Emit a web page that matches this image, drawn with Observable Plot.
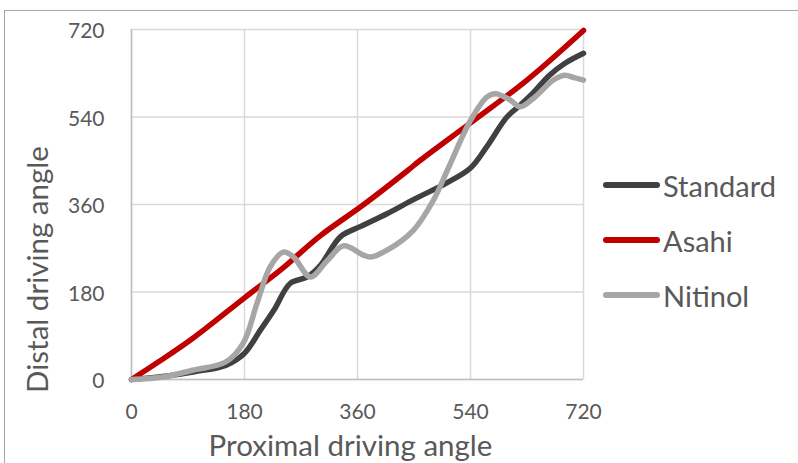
<!DOCTYPE html>
<html>
<head>
<meta charset="utf-8">
<script src="https://cdn.jsdelivr.net/npm/d3@7"></script>
<script src="https://cdn.jsdelivr.net/npm/@observablehq/plot@0.6"></script>
<style>
  html, body { margin: 0; padding: 0; background: #fff; }
  #wrap { position: relative; width: 798px; height: 463px; overflow: hidden; font-family: Lato, "Open Sans", sans-serif; }
  #border { position: absolute; left: 4px; top: 10px; width: 800px; height: 470px; border-left: 1.5px solid #a6a6a6; border-top: 1.5px solid #a6a6a6; box-sizing: border-box; pointer-events: none; }
  #legend { position: absolute; left: 603px; top: 0; }
  .item { position: absolute; left: 0; display: flex; align-items: center; white-space: nowrap; font-size: 29px; color: #595959; }
  .sw { width: 57px; height: 6px; border-radius: 3px; margin-right: 3px; }
</style>
</head>
<body>
<div id="wrap"><div id="border"></div><div id="legend"></div></div>
<script>
const seriesNames = ["Standard", "Asahi", "Nitinol"];
const seriesColors = ["#404040", "#c00000", "#a6a6a6"];
const ticks = [0, 180, 360, 540, 720];

const standardX = [0, 60, 100, 150, 180, 205, 227, 253, 280, 301, 333, 365, 407, 449, 503, 540, 566, 598, 619, 640, 665, 690, 720];
const standardY = [0, 8, 16, 29, 54, 101, 143, 198, 211, 235, 294, 315, 341, 370, 405, 435, 479, 540, 564, 590, 625, 650, 671];

const asahiX = [0, 45, 100, 180, 240, 300, 370, 440, 460, 540, 630, 720];
const asahiY = [0, 38, 87, 168, 228, 295, 360, 430, 451, 528, 616, 718];

const nitinolX = [0, 50, 97, 150, 178, 200, 221, 242, 258, 285, 312, 338, 369, 381, 407, 449, 481, 503, 540, 566, 580, 603, 619, 640, 672, 690, 705, 720];
const nitinolY = [0, 5, 19, 36, 75, 157, 232, 262, 252, 211, 245, 275, 256, 252, 266, 307, 369, 430, 533, 581, 588, 575, 561, 578, 616, 626, 621, 616];

const rows = [];
[[standardX, standardY], [asahiX, asahiY], [nitinolX, nitinolY]].forEach(([xs, ys], i) => {
  xs.forEach((x, j) => rows.push({series: seriesNames[i], x, y: ys[j]}));
});

const txt = "#595959";
const chart = Plot.plot({
  width: 798,
  height: 463,
  marginLeft: 131,
  marginRight: 215,
  marginTop: 29,
  marginBottom: 84,
  style: {fontFamily: "Lato, 'Open Sans', sans-serif", fontSize: "21px", color: txt, background: "transparent", overflow: "visible"},
  x: {domain: [0, 720], ticks: ticks},
  y: {domain: [0, 720], ticks: ticks},
  color: {domain: seriesNames, range: seriesColors},
  marks: [
    Plot.gridX(ticks, {stroke: "#d9d9d9", strokeOpacity: 1, strokeWidth: 1.5}),
    Plot.gridY(ticks, {stroke: "#d9d9d9", strokeOpacity: 1, strokeWidth: 1.5}),
    Plot.ruleX([0], {stroke: "#bfbfbf", strokeWidth: 1.5}),
    Plot.ruleY([0], {stroke: "#bfbfbf", strokeWidth: 1.5}),
    Plot.axisX(ticks, {tickSize: 0, tickPadding: 25, fill: txt, fontSize: 21, label: null}),
    Plot.axisY(ticks, {tickSize: 0, tickPadding: 27, dy: 2, fill: txt, fontSize: 21, label: null}),
    Plot.line(rows, {x: "x", y: "y", z: "series", stroke: "series", strokeWidth: 5.5, curve: "catmull-rom", strokeLinecap: "round", strokeLinejoin: "round"}),
    Plot.text(["Proximal driving angle"], {frameAnchor: "bottom", textAnchor: "middle", dx: -7, dy: 76, fill: txt, fontSize: 29.5}),
    Plot.text(["Distal driving angle"], {frameAnchor: "left", textAnchor: "middle", lineAnchor: "middle", rotate: -90, dx: -93, dy: 65, fill: txt, fontSize: 29.5})
  ]
});
document.getElementById("wrap").insertBefore(chart, document.getElementById("border"));
chart.style.position = "absolute";
chart.style.left = "0";
chart.style.top = "0";

const legend = document.getElementById("legend");
const legendTops = [185, 240, 295];
seriesNames.forEach((name, i) => {
  const item = document.createElement("div");
  item.className = "item";
  item.style.top = (legendTops[i] - 18) + "px";
  item.style.height = "36px";
  const sw = document.createElement("div");
  sw.className = "sw";
  sw.style.background = seriesColors[i];
  item.appendChild(sw);
  item.appendChild(document.createTextNode(name));
  legend.appendChild(item);
});
</script>
</body>
</html>
